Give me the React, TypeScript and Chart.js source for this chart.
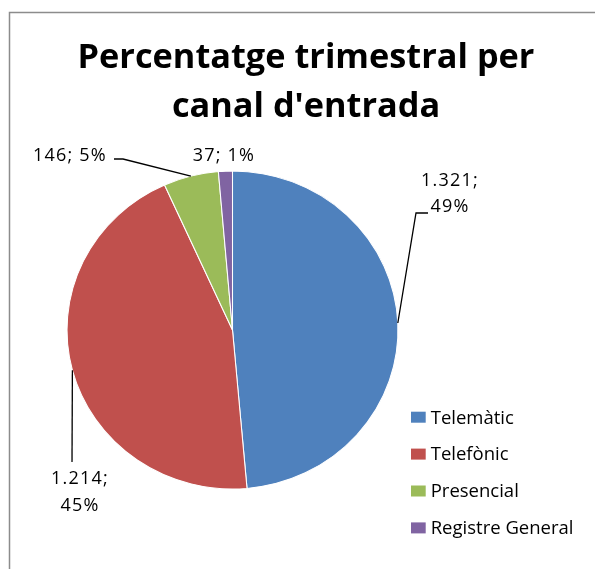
import React, { useEffect, useRef } from 'react';
import { Chart, registerables } from 'chart.js';

Chart.register(...registerables);

// ---------- data ----------
const categories = ['Telemàtic', 'Telefònic', 'Presencial', 'Registre General'];
const values = [1321, 1214, 146, 37];
const colors = ['#4F81BD', '#C0504D', '#9BBB59', '#8064A2'];
const titleLines = ['Percentatge trimestral per', "canal d'entrada"];

// ---------- layout ----------
const W = 595;
const H = 569;
const PIE_CX = 232.5;
const PIE_CY = 330;
const PIE_RY = 159.5;
const PIE_RX = 166;
const X_STRETCH = PIE_RX / PIE_RY;
const TITLE_CX = 306;
const TITLE_BASELINES = [67.5, 116.5];
const FONT = '"Open Sans", "Noto Sans", sans-serif';

type LabelLayout = { split: boolean; cx: number; baselines: number[]; leader: number[][] };
const LABEL_LAYOUT: LabelLayout[] = [
  { split: true, cx: 450, baselines: [186, 212], leader: [[428, 213], [416, 213]] },
  { split: true, cx: 80, baselines: [484, 511], leader: [[72, 462]] },
  { split: false, cx: 70, baselines: [161], leader: [[114, 159], [123, 159]] },
  { split: false, cx: 224, baselines: [161], leader: [] },
];

const LEGEND_BOX_X = 411;
const LEGEND_BOX_W = 14.7;
const LEGEND_BOX_H = 11;
const LEGEND_TEXT_X = 430.7;
const LEGEND_TOP = 411.7;
const LEGEND_STEP = 36.9;

const fmtNum = (n: number) => String(n).replace(/\B(?=(\d{3})+(?!\d))/g, '.');

const excelPiePlugin = {
  id: 'excelPie',
  beforeDraw(chart: any) {
    const ctx: CanvasRenderingContext2D = chart.ctx;
    ctx.save();
    ctx.fillStyle = '#ffffff';
    ctx.fillRect(0, 0, W, H);
    ctx.strokeStyle = '#8c8c8c';
    ctx.lineWidth = 1.5;
    ctx.beginPath();
    ctx.moveTo(9.5, H + 5);
    ctx.lineTo(9.5, 12.5);
    ctx.lineTo(W + 5, 12.5);
    ctx.stroke();
    ctx.fillStyle = '#000000';
    ctx.font = `bold 34.3px ${FONT}`;
    ctx.textAlign = 'center';
    ctx.textBaseline = 'alphabetic';
    titleLines.forEach((t, i) => ctx.fillText(t, TITLE_CX, TITLE_BASELINES[i]));
    ctx.restore();
  },
  beforeDatasetsDraw(chart: any) {
    const ctx: CanvasRenderingContext2D = chart.ctx;
    const arc = chart.getDatasetMeta(0).data[0];
    ctx.save();
    ctx.translate(arc.x, arc.y);
    ctx.scale(X_STRETCH, 1);
    ctx.translate(-arc.x, -arc.y);
  },
  afterDatasetsDraw(chart: any) {
    const ctx: CanvasRenderingContext2D = chart.ctx;
    ctx.restore();
    const data: number[] = chart.data.datasets[0].data;
    const bg: string[] = chart.data.datasets[0].backgroundColor;
    const total = data.reduce((a, b) => a + b, 0);
    const arcs = chart.getDatasetMeta(0).data;

    ctx.save();
    // leader lines
    ctx.strokeStyle = '#000000';
    ctx.lineWidth = 1.3;
    arcs.forEach((a: any, i: number) => {
      const lay = LABEL_LAYOUT[i];
      if (!lay || lay.leader.length === 0) return;
      const p = a.getProps(['x', 'y', 'startAngle', 'endAngle', 'outerRadius'], true);
      const mid = (p.startAngle + p.endAngle) / 2;
      const ax = p.x + Math.cos(mid) * p.outerRadius * X_STRETCH;
      const ay = p.y + Math.sin(mid) * p.outerRadius;
      ctx.beginPath();
      ctx.moveTo(lay.leader[0][0], lay.leader[0][1]);
      for (let k = 1; k < lay.leader.length; k++) ctx.lineTo(lay.leader[k][0], lay.leader[k][1]);
      ctx.lineTo(ax, ay);
      ctx.stroke();
    });

    // data labels
    ctx.fillStyle = '#000000';
    ctx.font = `18px ${FONT}`;
    ctx.textAlign = 'center';
    ctx.textBaseline = 'alphabetic';
    (ctx as any).letterSpacing = '1.2px';
    data.forEach((v, i) => {
      const lay = LABEL_LAYOUT[i];
      const num = fmtNum(v);
      const pct = Math.round((v / total) * 100) + '%';
      const lines = lay.split ? [`${num};`, pct] : [`${num}; ${pct}`];
      lines.forEach((t, k) => ctx.fillText(t, lay.cx, lay.baselines[k]));
    });
    (ctx as any).letterSpacing = '0px';

    // legend
    ctx.textAlign = 'left';
    ctx.font = `18.5px ${FONT}`;
    chart.data.labels.forEach((lab: string, i: number) => {
      const top = LEGEND_TOP + i * LEGEND_STEP;
      ctx.fillStyle = bg[i];
      ctx.fillRect(LEGEND_BOX_X, top, LEGEND_BOX_W, LEGEND_BOX_H);
      ctx.fillStyle = '#000000';
      ctx.fillText(lab, LEGEND_TEXT_X, top + 11.8);
    });
    ctx.restore();
  },
};

export default function App() {
  const ref = useRef<HTMLCanvasElement | null>(null);
  useEffect(() => {
    if (!ref.current) return;
    const chart = new Chart(ref.current, {
      type: 'pie',
      data: {
        labels: categories,
        datasets: [
          {
            data: values,
            backgroundColor: colors,
            borderColor: '#ffffff',
            borderWidth: 1,
            hoverOffset: 0,
            offset: 0,
          },
        ],
      },
      options: {
        responsive: false,
        animation: false,
        events: [],
        layout: {
          padding: {
            left: PIE_CX - PIE_RY,
            right: W - PIE_CX - PIE_RY,
            top: PIE_CY - PIE_RY,
            bottom: H - PIE_CY - PIE_RY,
          },
        },
        plugins: {
          legend: { display: false },
          title: { display: false },
          tooltip: { enabled: false },
        },
      },
      plugins: [excelPiePlugin],
    });
    return () => chart.destroy();
  }, []);
  return (
    <div style={{ position: 'fixed', left: 0, top: 0, width: W, height: H, background: '#fff' }}>
      <canvas ref={ref} width={W} height={H} style={{ display: 'block' }} />
    </div>
  );
}
